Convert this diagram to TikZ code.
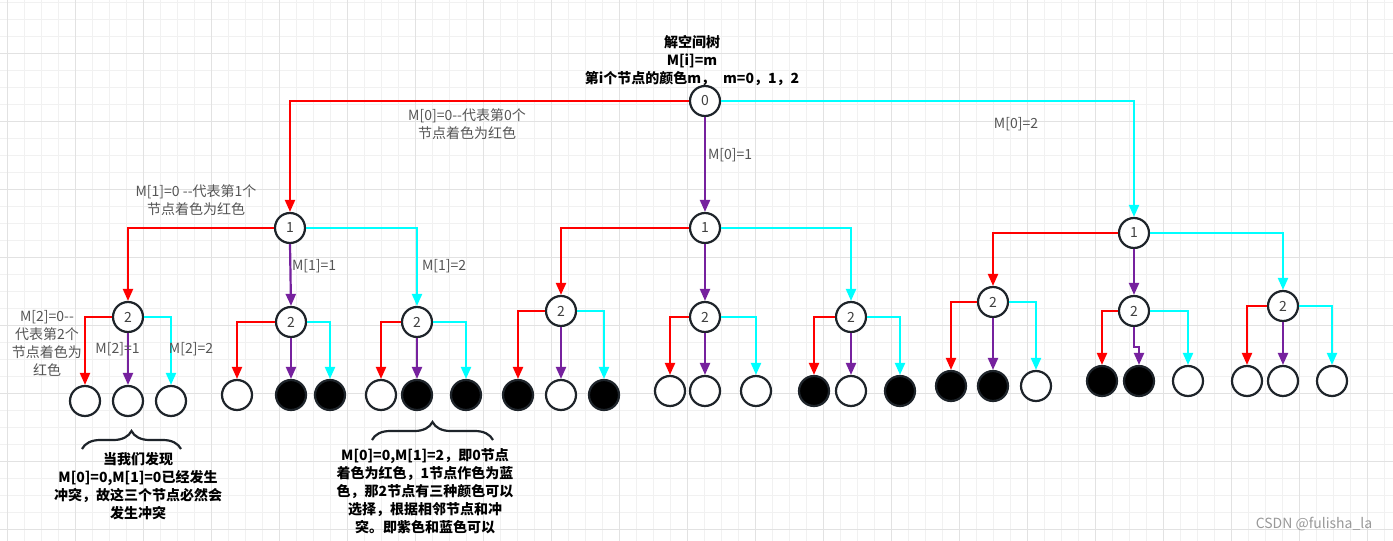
\documentclass[tikz,border=0pt]{standalone}
\usepackage{fontspec}
\setmainfont{Noto Sans CJK SC}
\usetikzlibrary{arrows.meta}
\usetikzlibrary{decorations.pathreplacing}
\definecolor{nodeline}{RGB}{30,36,42}
\definecolor{edgered}{RGB}{255,0,0}
\definecolor{edgecyan}{RGB}{0,255,255}
\definecolor{edgepurple}{RGB}{118,33,158}
\definecolor{labelgray}{RGB}{85,85,85}
\definecolor{gridminor}{RGB}{241,241,241}
\definecolor{gridmajor}{RGB}{226,226,226}

\begin{document}
\begin{tikzpicture}[x=1pt, y=-1pt, >={Triangle[width=10pt,length=12pt]}, line width=2.2pt, font=\fontsize{14}{18}\selectfont]
    \tikzstyle{state}=[draw=nodeline, circle, fill=white, minimum size=30pt, inner sep=0pt, text=black!75]
    \tikzstyle{hit}=[state, fill=black]
    \tikzstyle{lbl}=[text=labelgray, inner sep=0pt, align=center]
    \tikzstyle{note}=[text=black, inner sep=0pt, align=center, font=\fontsize{14}{18}\selectfont\bfseries]
    \tikzstyle{redline}=[->, draw=edgered]
    \tikzstyle{purpleline}=[->, draw=edgepurple]
    \tikzstyle{cyanline}=[->, draw=edgecyan]
    \tikzstyle{bracket}=[draw=nodeline, decorate]

    % background grid
    \useasboundingbox (0,0) rectangle (1393,541);
    \fill[white] (0,0) rectangle (1393,541);
    \begin{scope}[line width=1pt]
        \foreach \i in {0,...,81} \draw[gridminor] (7.3+17*\i,0) -- (7.3+17*\i,541);
        \foreach \j in {0,...,31} \draw[gridminor] (0,2.7+17*\j) -- (1393,2.7+17*\j);
        \foreach \i in {0,...,20} \draw[gridmajor] (7.3+68*\i,0) -- (7.3+68*\i,541);
        \foreach \j in {1,...,8} \draw[gridmajor] (0,-14.7+68*\j) -- (1393,-14.7+68*\j);
    \end{scope}

    % tree
    \node[state] (root) at (705,101) {0};
    \node[state] (A) at (290,228) {1};
    \node[state] (B) at (705,228) {1};
    \node[state] (C) at (1134,233) {1};

    \node[state] (A1) at (128,317) {2};
    \node[state] (A2) at (291,322) {2};
    \node[state] (A3) at (417,322) {2};
    \node[state] (B1) at (561,311) {2};
    \node[state] (B2) at (705,317) {2};
    \node[state] (B3) at (851,317) {2};
    \node[state] (C1) at (993,302) {2};
    \node[state] (C2) at (1134,311) {2};
    \node[state] (C3) at (1283,306) {2};

    \node[state] (A1a) at (85,401) {};
    \node[state] (A1b) at (128,401) {};
    \node[state] (A1c) at (171,401) {};
    \node[state] (A2a) at (237,395) {};
    \node[hit] (A2b) at (291,395) {};
    \node[hit] (A2c) at (330,395) {};
    \node[state] (A3a) at (381,395) {};
    \node[hit] (A3b) at (417,395) {};
    \node[hit] (A3c) at (466,395) {};
    \node[hit] (B1a) at (518,395) {};
    \node[state] (B1b) at (561,395) {};
    \node[hit] (B1c) at (604,395) {};
    \node[state] (B2a) at (670,391) {};
    \node[state] (B2b) at (705,391) {};
    \node[state] (B2c) at (756,391) {};
    \node[hit] (B3a) at (814,391) {};
    \node[state] (B3b) at (851,391) {};
    \node[hit] (B3c) at (900,391) {};
    \node[hit] (C1a) at (951,386) {};
    \node[hit] (C1b) at (993,386) {};
    \node[state] (C1c) at (1036,386) {};
    \node[hit] (C2a) at (1102,381) {};
    \node[hit] (C2b) at (1139,381) {};
    \node[state] (C2c) at (1188,381) {};
    \node[state] (C3a) at (1247,381) {};
    \node[state] (C3b) at (1283,381) {};
    \node[state] (C3c) at (1332,381) {};

    \foreach \p/\a/\b/\c in {root/A/B/C, A/A1/A2/A3, B/B1/B2/B3, C/C1/C2/C3,
        A1/A1a/A1b/A1c, A2/A2a/A2b/A2c, A3/A3a/A3b/A3c, B1/B1a/B1b/B1c,
        B2/B2a/B2b/B2c, B3/B3a/B3b/B3c, C1/C1a/C1b/C1c, C3/C3a/C3b/C3c}
    {
        \draw[redline] (\p.west) -| (\a.north);
        \draw[purpleline] (\p.south) -- (\b.north);
        \draw[cyanline] (\p.east) -| (\c.north);
    }
    \draw[redline] (C2.west) -| (C2a.north);
    \draw[purpleline] (C2.south) -- ++(0,20) -| (C2b.north);
    \draw[cyanline] (C2.east) -| (C2c.north);

    % labels
    \node[note] (title) at (692,61) {解空间树\\M[i]=m\\第i个节点的颜色m，\hspace{8pt}m=0，1，2};
    \node[lbl] (m00) at (467,124.5) {M[0]=0-{}-代表第0个\\节点着色为红色};
    \node[lbl, anchor=west] (m01) at (707,155) {M[0]=1};
    \node[lbl] (m02) at (1016,124) {M[0]=2};
    \node[lbl] (m10) at (196,200.5) {M[1]=0 -{}-代表第1个\\节点着色为红色};
    \node[lbl, anchor=west] (m11) at (291,266) {M[1]=1};
    \node[lbl, anchor=west] (m12) at (421,266) {M[1]=2};
    \node[lbl] (m20) at (47,343.5) {M[2]=0-{}-\\代表第2个\\节点着色为\\红色};
    \node[lbl] (m21) at (117.5,349) {M[2]=1};
    \node[lbl] (m22) at (191,349) {M[2]=2};

    % braces and notes
    \draw[bracket, decoration={brace, amplitude=18pt}] (82,449) -- (181,449);
    \draw[bracket, decoration={brace, amplitude=18pt}] (372,440) -- (493,440);
    \node[note] (clash) at (138,486) {当我们发现\\M[0]=0,M[1]=0已经发生\\冲突，故这三个节点必然会\\发生冲突};
    \node[note] (choice) at (425,491) {M[0]=0,M[1]=2，即0节点\\着色为红色，1节点作色为蓝\\色，那2节点有三种颜色可以\\选择，根据相邻节点和冲\\突。即紫色和蓝色可以};
    \node[lbl, text=black!40, font=\fontsize{14}{16}\selectfont] (mark) at (1314,524) {CSDN @fulisha\_la};

\end{tikzpicture}
\end{document}
